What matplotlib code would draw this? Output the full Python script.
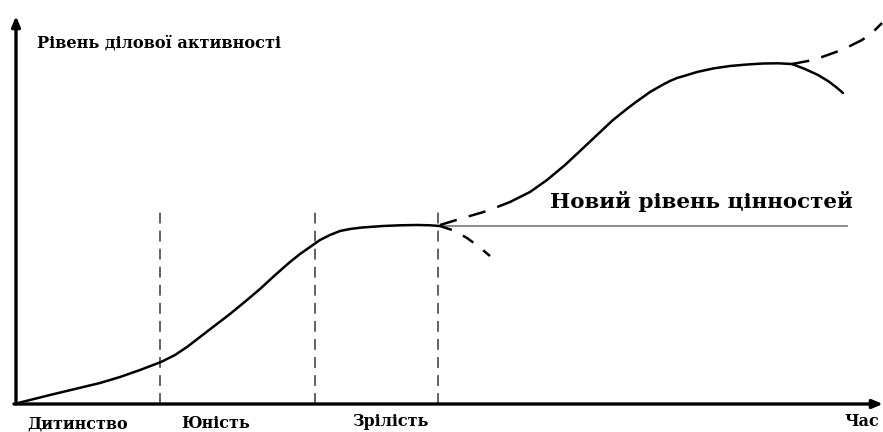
import matplotlib
matplotlib.use("Agg")
import matplotlib.pyplot as plt

# Coordinates: x = time, y = level of business activity (origin at axes corner)
OX, OY = 16, 404

def conv(pts):
    return [p[0] - OX for p in pts], [OY - p[1] for p in pts]

main_px = [(18, 403), (50, 395), (100, 383), (120, 377), (140, 370), (161, 362),
           (175, 355), (187, 347), (200, 337), (213, 327), (230, 314), (247, 300),
           (260, 289), (273, 277), (282, 269), (290, 262), (300, 254), (310, 247),
           (320, 240), (330, 235), (340, 231), (350, 229), (362, 227.5), (383, 226),
           (400, 225.3), (417, 225), (430, 225.3), (440, 226)]
dash_up_px = [(440, 225), (463, 218), (487, 211), (510, 202)]
second_px = [(510, 202), (530, 192), (547, 180), (565, 165), (580, 151), (597, 135),
             (613, 120), (628, 108), (636, 102), (643, 97), (650, 92), (657, 88),
             (664, 84), (670, 81), (677, 78), (684, 76), (697, 72), (713, 68.5),
             (730, 66), (747, 64.5), (763, 63.5), (778, 63.3), (792, 64)]
decline_px = [(792, 64), (805, 69), (818, 75), (828, 81), (836, 87), (843, 93)]
rise_px = [(792, 64), (808, 61), (822, 57), (836, 52), (850, 46), (862, 40), (872, 33), (882, 23)]
drop_px = [(440, 226), (455, 231), (467, 238), (478, 246), (490, 256)]

stage_x = [160, 315, 438]
stage_top = 207
stage_labels = ["Дитинство", "Юність", "Зрілість"]
stage_label_pos = [(78, 424), (216, 424), (390, 421)]
new_level_y = 226

fig = plt.figure(figsize=(8.83, 4.32), dpi=100)
ax = fig.add_axes([0, 0, 1, 1])
ax.set_xlim(-OX, 883 - OX)
ax.set_ylim(OY - 432, OY)
ax.axis("off")

# axes with arrows
ax.annotate("", xy=(0, OY - 16), xytext=(0, 0),
            arrowprops=dict(arrowstyle="-|>,head_length=0.6,head_width=0.25", lw=2.4, color="black",
                            shrinkA=0, shrinkB=0))
ax.annotate("", xy=(883 - OX, 0), xytext=(-2, 0),
            arrowprops=dict(arrowstyle="-|>,head_length=0.6,head_width=0.25", lw=2.4, color="black",
                            shrinkA=0, shrinkB=0))

# vertical dashed stage separators
for sx in stage_x:
    ax.plot([sx - OX, sx - OX], [0, OY - stage_top], color="#555555", lw=1.3,
            dashes=(6, 4))

# new value level line
ax.plot([440 - OX, 847 - OX], [OY - new_level_y, OY - new_level_y], color="#777777", lw=1.2)

kw = dict(color="black", lw=1.8, solid_capstyle="round", solid_joinstyle="round")
ax.plot(*conv(main_px), **kw)
ax.plot(*conv(second_px), **kw)
ax.plot(*conv(decline_px), **kw)
ax.plot(*conv(dash_up_px), color="black", lw=1.8, dashes=(7, 5))
ax.plot(*conv(rise_px), color="black", lw=1.8, dashes=(7, 5))
ax.plot(*conv(drop_px), color="black", lw=1.8, dashes=(5, 5))

serif = ["DejaVu Serif"]
ax.text(37 - OX, OY - 43, "Рівень ділової активності", family=serif, fontweight="bold",
        fontsize=11.6, ha="left", va="center")
ax.text(550 - OX, OY - 202, "Новий рівень цінностей", family=serif, fontweight="bold",
        fontsize=15.4, ha="left", va="center")
for lab, (lx, ly) in zip(stage_labels, stage_label_pos):
    ax.text(lx - OX, OY - ly, lab, family=serif, fontweight="bold", fontsize=11.5,
            ha="center", va="center")
ax.text(879 - OX, OY - 422, "Час", family=serif, fontweight="bold", fontsize=11.5,
        ha="right", va="center")

fig.savefig("out.png", dpi=100)
